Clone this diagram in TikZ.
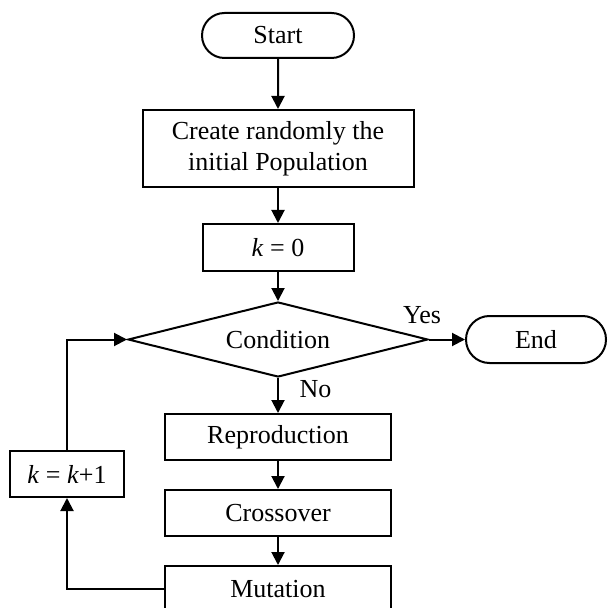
\documentclass[tikz,border=0pt]{standalone}
\usepackage{fontspec}
\setmainfont{Liberation Serif}
\usetikzlibrary{arrows.meta, positioning, shapes.geometric, shapes.misc}
\tikzstyle{flowchart}=[x=0.5pt, y=-0.5pt, line width=1pt, >={Triangle[length=6.5pt,width=6.5pt]}, font=\fontsize{13}{15.5}\selectfont]
\tikzstyle{terminal}=[draw, rounded rectangle, minimum width=76pt, minimum height=22.5pt, inner sep=0pt]
\tikzstyle{process}=[draw, rectangle, minimum width=113pt, minimum height=23pt, inner sep=0pt, align=center]
\tikzstyle{decision}=[draw, diamond, aspect=4, minimum width=150pt, minimum height=37.5pt, inner sep=0pt]

\begin{document}
\begin{tikzpicture}[flowchart]
        \useasboundingbox (0,0) rectangle (608,608);
        \clip (0,0) rectangle (608,608);

        \node[terminal]  (start) at (278,35.5)                    {Start};
        \node[process, minimum width=135.5pt, minimum height=38.5pt]
                         (init)  [below=25pt of start]            {Create randomly the\\initial Population};
        \node[process, minimum width=75.5pt, minimum height=23.5pt]
                         (k0)    [below=17.5pt of init]           {\textit{k} = 0};
        \node[decision]  (cond)  [below=14.5pt of k0]             {Condition};
        \node[terminal, minimum width=70pt, minimum height=23.5pt]
                         (end)   [right=18pt of cond]             {End};
        \node[process]   (repro) [below=17.5pt of cond]           {Reproduction};
        \node[process]   (cross) [below=14pt of repro]            {Crossover};
        \node[process]   (mut)   [below=14pt of cross]            {Mutation};
        \node[process, minimum width=57pt]
                         (kinc)  at (67,474)                      {\textit{k} = \textit{k}+1};

        \path[->]
          (start) edge (init)
          (init)  edge (k0)
          (k0)    edge (cond)
          (cond)  edge node [above, xshift=-12.5pt, yshift=4pt] {Yes} (end)
                  edge node [right, xshift=7pt, yshift=3pt] {No} (repro)
          (repro) edge (cross)
          (cross) edge (mut);
        \draw[->] (mut.west) -| (kinc.south);
        \draw[->] (kinc.north) |- (cond.west);
      \end{tikzpicture}
\end{document}
